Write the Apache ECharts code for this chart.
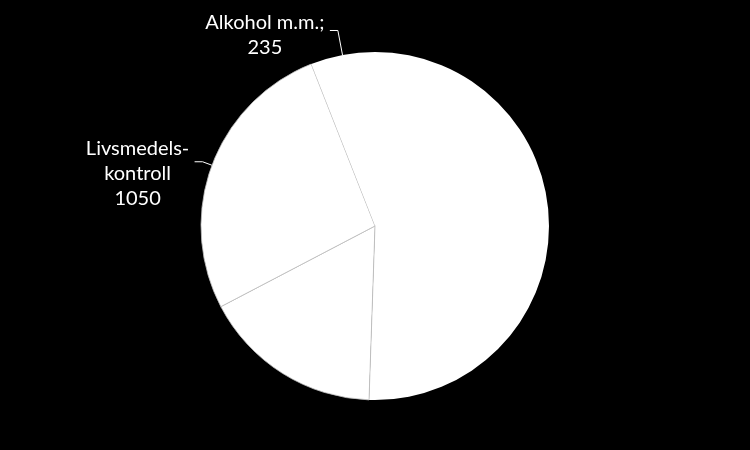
<!DOCTYPE html>
<html>
<head>
    <meta charset="UTF-8">
    <title>pie</title>
    <script src="https://cdn.jsdelivr.net/npm/echarts@6/dist/echarts.min.js"></script>
    <style>
        html, body { margin: 0; padding: 0; background: #000; }
    </style>
</head>
<body>
<div id="chart" style="width: 750px;height:450px;"></div>
<script>
    // kategorier och värden (medsols från klockan 12)
    var names = ['Miljöskydd', 'Hälsoskydd', 'Livsmedels-\nkontroll', 'Alkohol m.m.'];
    var values = [1988, 660, 1050, 235];
    var showLabel = [false, false, true, true];
    var showBorder = [false, true, true, false];

    var chart = echarts.init(document.getElementById('chart'));

    var txt = { align: 'center', color: '#ffffff', fontFamily: 'Lato', fontSize: 20, lineHeight: 25 };

    var data = names.map(function (n, i) {
        return {
            name: n,
            value: values[i],
            itemStyle: {
                color: '#ffffff',
                borderColor: '#bfbfbf',
                borderWidth: showBorder[i] ? 0.8 : 0
            },
            label: { show: showLabel[i] },
            labelLine: { show: showLabel[i] }
        };
    });
    // Livsmedels-kontroll
    data[2].label.formatter = '{t|Livsmedels-}\n{t|kontroll}\n{t|' + values[2] + '}';
    data[2].label.padding = [24, 0, 0, 0];
    data[2].label.rich = { t: Object.assign({ width: 106 }, txt) };
    data[2].labelLine.length = 10;
    data[2].labelLine.length2 = 8;
    // Alkohol
    data[3].label.formatter = '{t|Alkohol m.m.;}\n{t|' + values[3] + '}';
    data[3].label.padding = [10, 0, 0, 0];
    data[3].label.rich = { t: Object.assign({ width: 122 }, txt) };
    data[3].labelLine.length = 25;
    data[3].labelLine.length2 = 8;

    chart.setOption({
        backgroundColor: '#000000',
        animation: false,
        series: [{
            type: 'pie',
            center: [375, 226],
            radius: 174,
            startAngle: 90,
            clockwise: true,
            avoidLabelOverlap: false,
            label: {
                position: 'outside',
                color: '#ffffff',
                fontFamily: 'Lato',
                fontSize: 20,
                lineHeight: 25,
                distanceToLabelLine: 4
            },
            labelLine: {
                smooth: false,
                lineStyle: { color: '#ffffff', width: 1 }
            },
            emphasis: { disabled: true },
            data: data
        }]
    });
</script>
</body>
</html>
